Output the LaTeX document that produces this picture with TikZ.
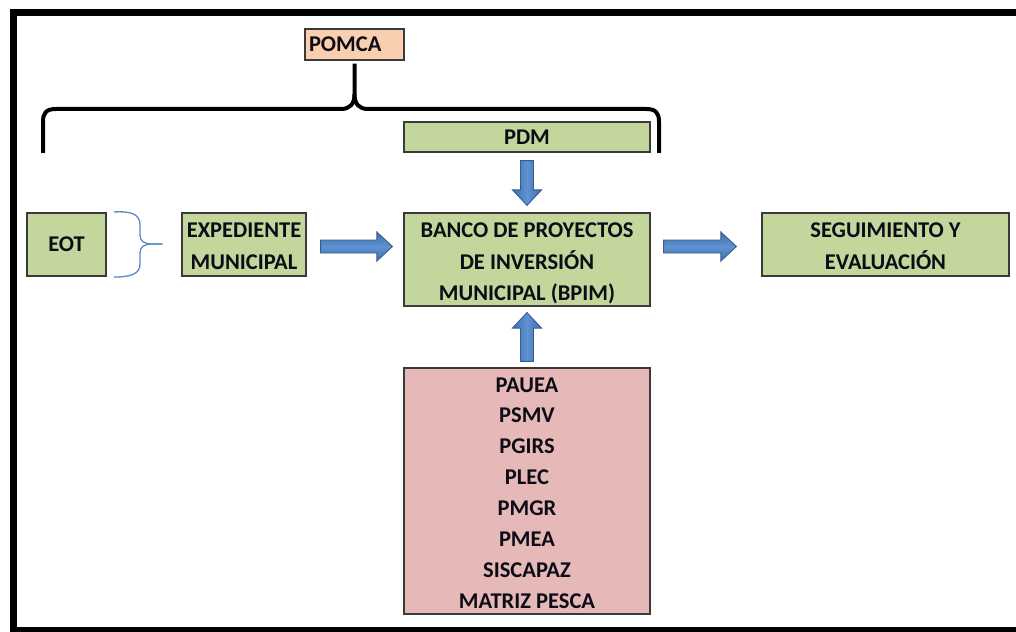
\documentclass[tikz,border=0pt]{standalone}
\usepackage{fontspec}
\setmainfont{Carlito}
\usetikzlibrary{calc}
\definecolor{boxgreen}{HTML}{C3D69B}
\definecolor{boxpeach}{HTML}{F9CFAF}
\definecolor{boxred}{HTML}{E6B9B8}
\definecolor{boxline}{HTML}{3A3A3A}
\definecolor{txt}{HTML}{0C0C16}
\definecolor{arrowfill}{HTML}{3F6FAC}
\definecolor{arrowmid}{HTML}{5E92D2}
\definecolor{arrowline}{HTML}{385D8A}
\definecolor{bracesmall}{HTML}{5A8AC8}
\newcommand\tdn[1]{\rule{0pt}{#1}}
\tikzset{
  boxnode/.style={draw=boxline, line width=1.2pt, inner sep=0pt, text=txt,
    font=\fontsize{22.5}{31.5}\selectfont\bfseries, align=center},
  greenbox/.style={boxnode, fill=boxgreen},
  blockarrowstyle/.style={draw=arrowline, line width=0.9pt, line join=miter},
  harrow/.style={blockarrowstyle, top color=arrowfill, bottom color=arrowfill, middle color=arrowmid},
  varrow/.style={blockarrowstyle, left color=arrowfill, right color=arrowfill, middle color=arrowmid},
}
% block arrow from #2 to #3, shaft half width 6.5, head half width 14.5, head length 15.5
\newcommand\blockarrow[3][]{%
  \coordinate (ba-s) at #2;
  \coordinate (ba-e) at #3;
  \coordinate (ba-h) at ($(ba-e)!15.5pt!(ba-s)$);
  \path[#1] ($(ba-s)!6.5pt!90:(ba-e)$) -- ($(ba-h)!6.5pt!90:(ba-e)$)
    -- ($(ba-h)!14.5pt!90:(ba-e)$) -- (ba-e) -- ($(ba-h)!14.5pt!-90:(ba-e)$)
    -- ($(ba-h)!6.5pt!-90:(ba-e)$) -- ($(ba-s)!6.5pt!-90:(ba-e)$) -- cycle;
}
\begin{document}
\begin{tikzpicture}[x=1pt,y=-1pt]
\useasboundingbox (0,0) rectangle (1016,631);
\clip (0,0) rectangle (1016,631);
\fill[white] (0,0) rectangle (1016,631);
% frame
\draw[line width=7pt] (13,12.5) rectangle (1040,630.5);

% boxes
\node[boxnode, fill=boxpeach, minimum width=99pt, minimum height=31pt,
      text width=91pt, align=left] (pomca) at (354.5,44.5) {POMCA};
\node[greenbox, minimum width=246pt, minimum height=30pt] (pdm) at (527,137) {PDM};
\node[greenbox, minimum width=79pt, minimum height=63pt] (eot) at (66.5,244.5) {EOT};
\node[greenbox, minimum width=124pt, minimum height=63pt] (exp) at (244,244.5) {\tdn{18.5pt}EXPEDIENTE\\MUNICIPAL};
\node[greenbox, minimum width=246pt, minimum height=93pt] (bpim) at (527,259.5) {\tdn{22.5pt}BANCO DE PROYECTOS\\DE INVERSIÓN\\MUNICIPAL (BPIM)};
\node[greenbox, minimum width=247pt, minimum height=63pt] (seg) at (885.5,244.5) {\tdn{18.5pt}SEGUIMIENTO Y\\EVALUACIÓN};
\node[boxnode, fill=boxred, minimum width=246pt, minimum height=246pt,
  font=\fontsize{22.5}{30.9}\selectfont\bfseries] (plans) at (527,491)
  {\tdn{18.5pt}PAUEA\\PSMV\\PGIRS\\PLEC\\PMGR\\PMEA\\SISCAPAZ\\MATRIZ PESCA};

% big brace under POMCA
\coordinate (bracetip) at ($(pomca.south)+(0,3)$);
\draw[line width=4pt] (43,153) -- (43,122) .. controls (43,113) and (46,109) .. (56,109)
  -- (341,109) .. controls (350,109) and (354.5,104) .. (354.5,94) -- (bracetip);
\draw[line width=4pt] (354.5,94) .. controls (354.5,104) and (359,109) .. (368,109)
  -- (646,109) .. controls (656,109) and (659,113) .. (659,122) -- (659,153);

% small brace between EOT and EXPEDIENTE
\coordinate (smalltip) at ($(exp.west)+(-19,-0.5)$);
\draw[bracesmall, line width=1.3pt] (114,212) .. controls (131,211) and (140,214) .. (140,225)
  -- (140,235) .. controls (140,241) and (144,244) .. (152,244) -- (smalltip);
\draw[bracesmall, line width=1.3pt] (smalltip) -- (152,244) .. controls (144,244) and (140,247) .. (140,253)
  -- (140,264) .. controls (140,274) and (131,277) .. (114,277);

% block arrows
\blockarrow[harrow]{($(exp.east)+(14,2)$)}{($(bpim.west)+(-11,-13)$)}
\blockarrow[harrow]{($(bpim.east)+(13,-13)$)}{($(seg.west)+(-25,2)$)}
\blockarrow[varrow]{($(pdm.south)+(0,8)$)}{($(bpim.north)+(0,-7)$)}
\blockarrow[varrow]{($(plans.north)+(0,-6)$)}{($(bpim.south)+(0,6)$)}
\end{tikzpicture}
\end{document}
